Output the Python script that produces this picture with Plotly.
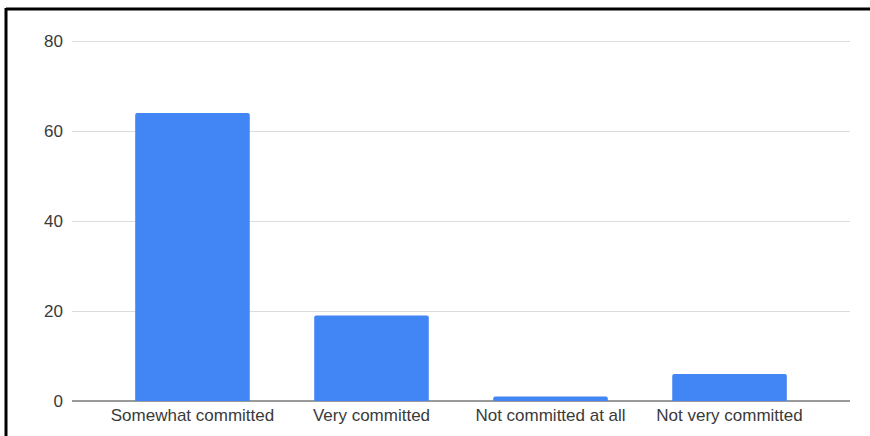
import plotly.graph_objects as go

# Survey responses: level of commitment
categories = ["Somewhat committed", "Very committed", "Not committed at all", "Not very committed"]
counts = [64, 19, 1, 6]
y_ticks = [0, 20, 40, 60, 80]

W, H = 870, 436
ML, MR, MT, MB = 72, 20, 39, 35
pw, ph = W - ML - MR, H - MT - MB
y_top = 80 + 2 / 4.5  # small headroom so the 80 gridline is drawn


def px_x(x):
    return (x - ML) / pw


def px_y(y):
    return (H - MB - y) / ph


fig = go.Figure(
    go.Bar(
        x=categories,
        y=counts,
        width=0.64,
        marker=dict(color="#4285F4", line=dict(width=0)),
        hoverinfo="x+y",
    )
)

font = dict(family="Liberation Sans, Arial, sans-serif", size=17, color="#3a3a3a")

fig.update_layout(
    width=W,
    height=H,
    margin=dict(l=ML, r=MR, t=MT, b=MB),
    paper_bgcolor="white",
    plot_bgcolor="white",
    showlegend=False,
    barcornerradius=2,
    font=font,
    xaxis=dict(
        range=[-0.673, 3.673],
        showgrid=False,
        showline=False,
        ticks="",
        tickfont=font,
        ticklabelstandoff=2,
    ),
    yaxis=dict(
        range=[0, y_top],
        tickvals=y_ticks,
        showgrid=True,
        gridcolor="#dcdcdc",
        gridwidth=1,
        zeroline=True,
        zerolinecolor="#9a9a9a",
        zerolinewidth=2,
        showline=False,
        ticks="",
        tickfont=font,
        ticklabelstandoff=8,
    ),
    shapes=[
        # frame along the top and left edges
        dict(type="line", xref="paper", yref="paper",
             x0=px_x(6), x1=px_x(W + 5), y0=px_y(9), y1=px_y(9),
             line=dict(color="black", width=3)),
        dict(type="line", xref="paper", yref="paper",
             x0=px_x(6), x1=px_x(6), y0=px_y(8), y1=px_y(H + 5),
             line=dict(color="black", width=3)),
    ],
)

fig.write_html("out.html")
